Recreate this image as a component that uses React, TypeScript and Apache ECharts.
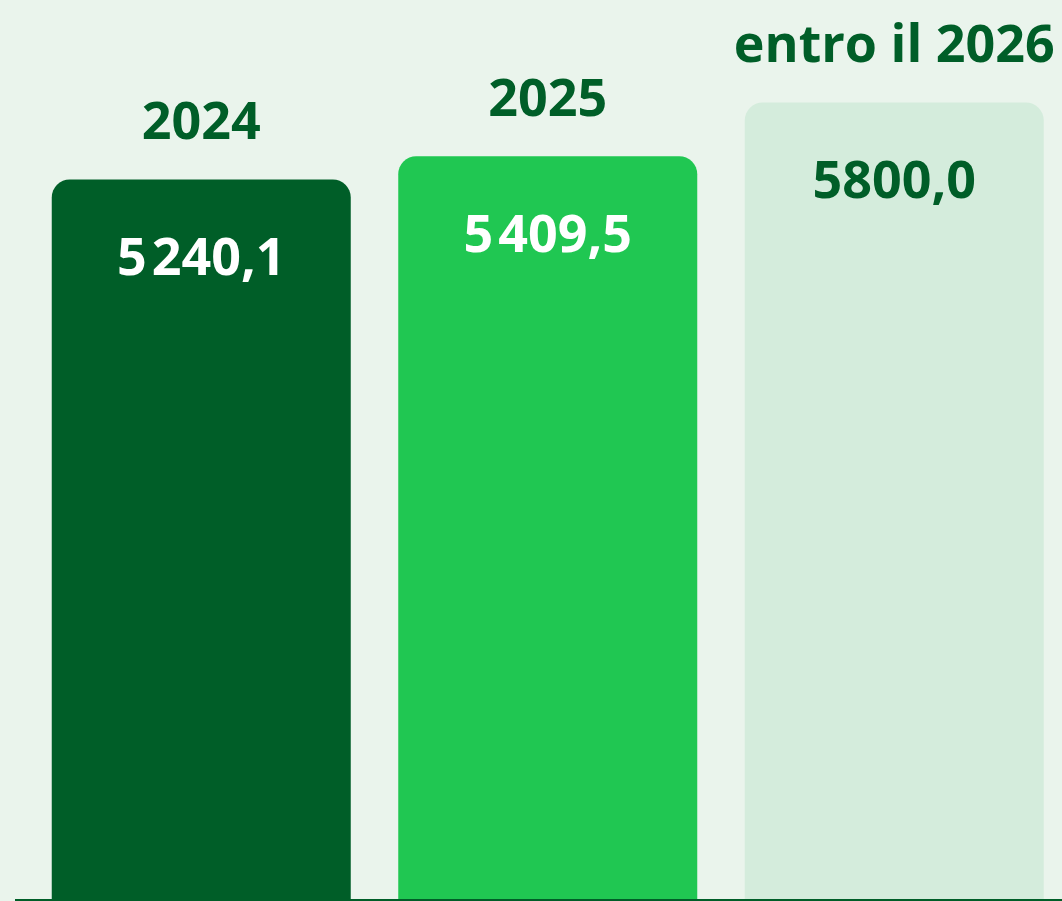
import React, { useEffect, useRef } from "react";
import * as echarts from "echarts";

const categories = ["2024", "2025", "entro il 2026"];
const values = [5240.1, 5409.5, 5800.0];
const valueLabels = ["5\u200A240,1", "5\u200A409,5", "5800,0"];
const barColors = ["#005E28", "#20C752", "#D4ECDC"];
const valueLabelColors = ["#FFFFFF", "#FFFFFF", "#005E28"];

const BG = "#EAF4EC";
const DARK = "#005E28";
const FONT = "'Open Sans', 'Noto Sans', sans-serif";

export default function App() {
  const ref = useRef<HTMLDivElement>(null);
  useEffect(() => {
    if (!ref.current) return;
    const chart = echarts.init(ref.current, undefined, { renderer: "svg" });
    chart.setOption({
      animation: false,
      backgroundColor: BG,
      grid: { left: 28, width: 1039.5, top: 75, bottom: 1 },
      xAxis: {
        type: "category",
        data: categories,
        axisLine: { show: false },
        axisTick: { show: false },
        axisLabel: { show: false },
      },
      yAxis: {
        type: "value",
        min: 0,
        max: 6000,
        show: false,
        splitLine: { show: false },
      },
      graphic: [
        {
          type: "line",
          shape: { x1: 15, y1: 900, x2: 1070, y2: 900 },
          style: { stroke: DARK, lineWidth: 2 },
          z: 100,
        },
      ],
      series: [
        {
          type: "bar",
          barWidth: 299,
          data: values.map((v, i) => ({
            value: v,
            itemStyle: { color: barColors[i], borderRadius: [18, 18, 0, 0] },
            label: {
              show: true,
              position: "insideTop",
              distance: 49,
              formatter: valueLabels[i],
              color: valueLabelColors[i],
              fontFamily: FONT,
              fontWeight: "bold",
              fontSize: 52,
              lineHeight: 52,
            },
          })),
        },
        {
          type: "bar",
          barWidth: 299,
          barGap: "-100%",
          itemStyle: { color: "rgba(0,0,0,0)" },
          data: values.map((v, i) => ({
            value: v,
            label: {
              show: true,
              position: "top",
              distance: 35,
              formatter: categories[i],
              color: DARK,
              fontFamily: FONT,
              fontWeight: "bold",
              fontSize: 52,
              lineHeight: 52,
            },
          })),
        },
      ],
    });
    return () => chart.dispose();
  }, []);
  return (
    <div
      ref={ref}
      style={{ position: "fixed", left: 0, top: 0, width: 1070, height: 901 }}
    />
  );
}
